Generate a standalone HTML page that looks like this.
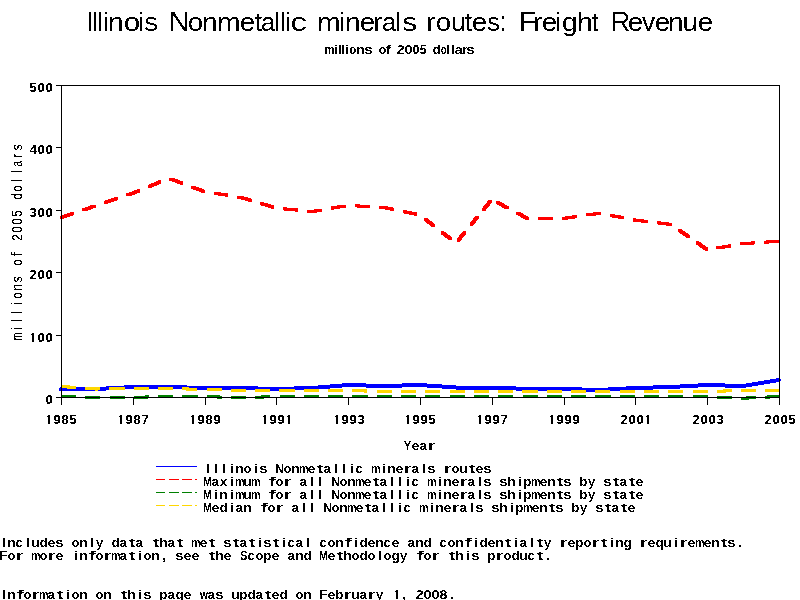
<!DOCTYPE html>
<html><head><meta charset="utf-8"><style>
html,body{margin:0;padding:0;background:#fff;width:800px;height:600px;overflow:hidden}
svg{display:block;will-change:transform}
.title text{font-family:"Liberation Sans",sans-serif;font-size:27px;fill:#000}
.sub text{font-family:"Liberation Sans",sans-serif;font-weight:bold;font-size:12.5px;fill:#000}
.tk{font-family:"Liberation Sans",sans-serif;font-weight:bold;font-size:13.1px;fill:#000}
.tkm{font-family:"Liberation Mono",monospace;font-weight:bold;font-size:13.333px;fill:#000}
.mono{font-family:"Liberation Mono",monospace;font-size:14px;fill:#000}
.yl text{font-family:"Liberation Sans",sans-serif;font-size:14px;fill:#000}
.gm text{font-family:"Liberation Sans",sans-serif;font-weight:bold;font-size:12.8px;fill:#000}
.monob{font-family:"Liberation Mono",monospace;font-weight:bold;font-size:13.333px;fill:#000;white-space:pre}
</style></head><body>
<svg width="800" height="600" viewBox="0 0 800 600">
<defs><clipPath id="plotclip"><rect x="0" y="0" width="779" height="600"/></clipPath><filter id="crisp" x="0" y="0" width="800" height="600" filterUnits="userSpaceOnUse" color-interpolation-filters="sRGB"><feComponentTransfer><feFuncA type="discrete" tableValues="0 1"/></feComponentTransfer></filter><filter id="crisp2" x="0" y="0" width="800" height="600" filterUnits="userSpaceOnUse" color-interpolation-filters="sRGB"><feComponentTransfer><feFuncA type="discrete" tableValues="0 0 1 1 1"/></feComponentTransfer></filter></defs>
<g filter="url(#crisp)">
<g fill="none" stroke-width="3" shape-rendering="crispEdges">
<polyline points="61.0,389.00 96.9,389.00 132.8,387.00 168.7,387.00 204.6,388.00 240.5,388.00 276.4,389.00 312.3,388.00 348.2,385.00 384.1,386.00 420.0,385.00 455.9,387.50 491.8,387.50 527.7,389.00 563.6,389.00 599.5,390.00 635.4,388.00 671.3,387.00 707.2,385.00 743.1,386.00 779.0,380.00" stroke="#0000ff" stroke-width="4" stroke-linecap="round"/>
<g fill="#ff0000" stroke="none" clip-path="url(#plotclip)"><polygon points="60.05,216.01 71.03,212.22 74.03,212.22 74.03,215.22 63.05,219.01 60.05,219.01"/><polygon points="82.12,208.39 93.11,204.59 96.11,204.59 96.11,207.59 85.12,211.39 82.12,211.39"/><polygon points="104.24,200.85 115.29,197.15 118.29,197.15 118.29,200.15 107.24,203.85 104.24,203.85"/><polygon points="126.43,193.43 131.30,191.80 134.30,191.80 134.30,194.80 129.43,196.43 126.43,196.43"/><polygon points="131.30,191.80 137.22,189.33 140.22,189.33 140.22,192.33 134.30,194.80 131.30,194.80"/><polygon points="147.87,184.88 158.44,180.46 161.44,180.46 161.44,183.46 150.87,187.88 147.87,187.88"/><polygon points="169.15,177.52 172.15,177.52 183.00,181.54 183.00,184.54 180.00,184.54 169.15,180.52"/><polygon points="190.94,185.59 193.94,185.59 204.79,189.61 204.79,192.61 201.79,192.61 190.94,188.59"/><polygon points="213.60,191.77 216.60,191.77 228.44,193.65 228.44,196.65 225.44,196.65 213.60,194.77"/><polygon points="237.38,195.54 240.38,195.54 242.00,195.80 242.00,198.80 239.00,198.80 237.38,198.54"/><polygon points="239.00,195.80 242.00,195.80 251.69,198.72 251.69,201.72 248.69,201.72 239.00,198.80"/><polygon points="260.01,202.12 263.01,202.12 274.24,205.50 274.24,208.50 271.24,208.50 260.01,205.12"/><polygon points="283.10,207.38 286.10,207.38 298.10,208.51 298.10,211.51 295.10,211.51 283.10,210.38"/><polygon points="307.20,209.66 310.20,209.66 313.80,210.00 313.80,213.00 310.80,213.00 307.20,212.66"/><polygon points="310.80,210.00 319.06,208.60 322.06,208.60 322.06,211.60 313.80,213.00 310.80,213.00"/><polygon points="330.96,206.57 342.76,204.57 345.76,204.57 345.76,207.57 333.96,209.57 330.96,209.57"/><polygon points="354.84,204.38 357.84,204.38 369.90,205.08 369.90,208.08 366.90,208.08 354.84,207.38"/><polygon points="379.07,205.79 382.07,205.79 385.60,206.00 385.60,209.00 382.60,209.00 379.07,208.79"/><polygon points="382.60,206.00 385.60,206.00 393.84,207.72 393.84,210.72 390.84,210.72 382.60,209.00"/><polygon points="402.59,210.18 405.59,210.18 417.25,212.61 417.25,215.61 414.25,215.61 402.59,213.18"/><polygon points="423.89,217.72 426.89,217.72 435.26,224.27 435.26,227.27 432.26,227.27 423.89,220.72"/><polygon points="440.70,230.88 443.70,230.88 452.07,237.43 452.07,240.43 449.07,240.43 440.70,233.88"/><polygon points="456.77,238.73 463.14,231.01 466.14,231.01 466.14,234.01 459.77,241.73 456.77,241.73"/><polygon points="469.56,223.23 475.93,215.52 478.93,215.52 478.93,218.52 472.56,226.23 469.56,226.23"/><polygon points="482.35,207.74 488.71,200.02 491.71,200.02 491.71,203.02 485.35,210.74 482.35,210.74"/><polygon points="495.86,201.03 498.86,201.03 508.76,206.24 508.76,209.24 505.76,209.24 495.86,204.03"/><polygon points="515.75,211.50 518.75,211.50 528.65,216.71 528.65,219.71 525.65,219.71 515.75,214.50"/><polygon points="537.73,216.97 549.83,216.93 552.83,216.93 552.83,219.93 540.73,219.97 537.73,219.97"/><polygon points="562.03,216.90 565.10,216.90 565.10,219.90 562.03,219.90"/><polygon points="562.10,216.90 573.91,215.21 576.91,215.21 576.91,218.21 565.10,219.90 562.10,219.90"/><polygon points="585.89,213.49 597.78,211.78 600.78,211.78 600.78,214.78 588.89,216.49 585.89,216.49"/><polygon points="609.61,213.96 612.61,213.96 624.33,216.20 624.33,219.20 621.33,219.20 609.61,216.96"/><polygon points="633.15,218.46 636.15,218.46 636.90,218.60 636.90,221.60 633.90,221.60 633.15,221.46"/><polygon points="633.90,218.60 636.90,218.60 648.08,219.97 648.08,222.97 645.08,222.97 633.90,221.60"/><polygon points="657.12,221.45 660.12,221.45 672.07,222.91 672.07,225.91 669.07,225.91 657.12,224.45"/><polygon points="678.16,228.88 681.16,228.88 689.98,235.09 689.98,238.09 686.98,238.09 678.16,231.88"/><polygon points="695.88,241.34 698.88,241.34 707.71,247.55 707.71,250.55 704.71,250.55 695.88,244.34"/><polygon points="716.27,246.44 728.06,244.42 731.06,244.42 731.06,247.42 719.27,249.44 716.27,249.44"/><polygon points="739.96,242.38 741.60,242.10 744.60,242.10 744.60,245.10 742.96,245.38 739.96,245.38"/><polygon points="741.60,242.10 751.98,241.42 754.98,241.42 754.98,244.42 744.60,245.10 741.60,245.10"/><polygon points="764.13,240.62 776.18,239.84 779.18,239.84 779.18,242.84 767.13,243.62 764.13,243.62"/></g>
<g fill="#008000" stroke="none" clip-path="url(#plotclip)"><polygon points="61.00,395.04 64.00,395.04 76.09,395.38 76.09,398.38 73.09,398.38 61.00,398.04"/><polygon points="85.28,395.72 88.28,395.72 98.40,396.00 98.40,399.00 95.40,399.00 85.28,398.72"/><polygon points="95.40,396.00 97.38,395.99 100.38,395.99 100.38,398.99 98.40,399.00 95.40,399.00"/><polygon points="109.58,395.92 121.67,395.85 124.67,395.85 124.67,398.85 112.58,398.92 109.58,398.92"/><polygon points="133.87,395.74 145.97,395.47 148.97,395.47 148.97,398.47 136.87,398.74 133.87,398.74"/><polygon points="158.16,395.20 167.20,395.00 170.20,395.00 170.20,398.00 161.16,398.20 158.16,398.20"/><polygon points="167.20,395.00 173.26,395.00 173.26,398.00 167.20,398.00"/><polygon points="182.46,395.00 197.56,395.00 197.56,398.00 182.46,398.00"/><polygon points="206.75,395.13 209.75,395.13 221.84,395.57 221.84,398.57 218.84,398.57 206.75,398.13"/><polygon points="231.03,396.01 234.03,396.01 242.00,396.30 242.00,399.30 239.00,399.30 231.03,399.01"/><polygon points="239.00,396.30 243.11,396.15 246.11,396.15 246.11,399.15 242.00,399.30 239.00,399.30"/><polygon points="255.30,395.71 267.38,395.27 270.38,395.27 270.38,398.27 258.30,398.71 255.30,398.71"/><polygon points="279.57,395.00 294.68,395.00 294.68,398.00 279.57,398.00"/><polygon points="303.88,395.00 313.80,395.00 313.80,398.00 303.88,398.00"/><polygon points="310.80,395.00 318.98,395.00 318.98,398.00 310.80,398.00"/><polygon points="328.18,395.00 343.27,395.00 343.27,398.00 328.18,398.00"/><polygon points="352.48,395.00 367.57,395.00 367.57,398.00 352.48,398.00"/><polygon points="376.77,395.00 385.60,395.00 385.60,398.00 376.77,398.00"/><polygon points="382.60,395.00 391.88,395.00 391.88,398.00 382.60,398.00"/><polygon points="401.07,395.00 416.18,395.00 416.18,398.00 401.07,398.00"/><polygon points="425.38,395.00 440.48,395.00 440.48,398.00 425.38,398.00"/><polygon points="449.68,395.00 457.40,395.00 457.40,398.00 449.68,398.00"/><polygon points="454.40,395.00 464.77,395.00 464.77,398.00 454.40,398.00"/><polygon points="473.98,395.00 489.07,395.00 489.07,398.00 473.98,398.00"/><polygon points="498.27,395.00 513.38,395.00 513.38,398.00 498.27,398.00"/><polygon points="522.58,395.00 529.20,395.00 529.20,398.00 522.58,398.00"/><polygon points="526.20,395.00 537.67,395.00 537.67,398.00 526.20,398.00"/><polygon points="546.88,395.00 561.98,395.00 561.98,398.00 546.88,398.00"/><polygon points="571.17,395.00 586.27,395.00 586.27,398.00 571.17,398.00"/><polygon points="595.48,395.00 601.00,395.00 601.00,398.00 595.48,398.00"/><polygon points="598.00,395.00 610.58,395.00 610.58,398.00 598.00,398.00"/><polygon points="619.77,395.00 634.88,395.00 634.88,398.00 619.77,398.00"/><polygon points="644.08,395.00 659.17,395.00 659.17,398.00 644.08,398.00"/><polygon points="668.38,395.00 672.80,395.00 672.80,398.00 668.38,398.00"/><polygon points="669.80,395.00 683.48,395.00 683.48,398.00 669.80,398.00"/><polygon points="692.67,395.00 707.77,395.00 707.77,398.00 692.67,398.00"/><polygon points="716.95,395.53 719.95,395.53 732.03,396.11 732.03,399.11 729.03,399.11 716.95,398.53"/><polygon points="741.20,396.68 744.20,396.68 744.60,396.70 744.60,399.70 741.60,399.70 741.20,399.68"/><polygon points="741.60,396.70 753.28,396.15 756.28,396.15 756.28,399.15 744.60,399.70 741.60,399.70"/><polygon points="765.46,395.57 777.50,395.00 780.50,395.00 780.50,398.00 768.46,398.57 765.46,398.57"/></g>
<g fill="#ffd700" stroke="none" clip-path="url(#plotclip)"><polygon points="60.99,385.10 63.99,385.10 76.04,385.94 76.04,388.94 73.04,388.94 60.99,388.10"/><polygon points="85.19,386.79 88.19,386.79 98.40,387.50 98.40,390.50 95.40,390.50 85.19,389.79"/><polygon points="95.40,387.50 97.25,387.47 100.25,387.47 100.25,390.47 98.40,390.50 95.40,390.50"/><polygon points="109.44,387.30 121.54,387.14 124.54,387.14 124.54,390.14 112.44,390.30 109.44,390.30"/><polygon points="133.74,387.00 148.84,387.00 148.84,390.00 133.74,390.00"/><polygon points="158.04,387.00 170.20,387.00 170.20,390.00 158.04,390.00"/><polygon points="167.20,387.00 170.20,387.00 173.14,387.08 173.14,390.08 170.14,390.08 167.20,390.00"/><polygon points="182.33,387.42 185.33,387.42 197.42,387.76 197.42,390.76 194.42,390.76 182.33,390.42"/><polygon points="206.61,388.10 209.61,388.10 221.70,388.44 221.70,391.44 218.70,391.44 206.61,391.10"/><polygon points="230.90,388.77 233.90,388.77 242.00,389.00 242.00,392.00 239.00,392.00 230.90,391.77"/><polygon points="239.00,389.00 245.99,389.00 245.99,392.00 239.00,392.00"/><polygon points="255.19,389.00 270.29,389.00 270.29,392.00 255.19,392.00"/><polygon points="279.49,389.00 294.59,389.00 294.59,392.00 279.49,392.00"/><polygon points="303.79,389.00 313.80,389.00 313.80,392.00 303.79,392.00"/><polygon points="310.80,389.00 318.89,389.00 318.89,392.00 310.80,392.00"/><polygon points="328.09,389.00 343.19,389.00 343.19,392.00 328.09,392.00"/><polygon points="352.39,389.16 355.39,389.16 367.48,389.50 367.48,392.50 364.48,392.50 352.39,392.16"/><polygon points="376.67,389.83 379.67,389.83 385.60,390.00 385.60,393.00 382.60,393.00 376.67,392.83"/><polygon points="382.60,390.00 391.76,390.00 391.76,393.00 382.60,393.00"/><polygon points="400.96,390.00 416.06,390.00 416.06,393.00 400.96,393.00"/><polygon points="425.26,390.00 440.37,390.00 440.37,393.00 425.26,393.00"/><polygon points="449.56,390.00 457.40,390.00 457.40,393.00 449.56,393.00"/><polygon points="454.40,390.00 464.67,390.00 464.67,393.00 454.40,393.00"/><polygon points="473.87,390.00 488.96,390.00 488.96,393.00 473.87,393.00"/><polygon points="498.17,390.00 513.26,390.00 513.26,393.00 498.17,393.00"/><polygon points="522.47,390.00 529.20,390.00 529.20,393.00 522.47,393.00"/><polygon points="526.20,390.00 537.57,390.00 537.57,393.00 526.20,393.00"/><polygon points="546.76,390.00 561.87,390.00 561.87,393.00 546.76,393.00"/><polygon points="571.07,390.00 586.16,390.00 586.16,393.00 571.07,393.00"/><polygon points="595.37,390.00 601.00,390.00 601.00,393.00 595.37,393.00"/><polygon points="598.00,390.00 610.47,390.00 610.47,393.00 598.00,393.00"/><polygon points="619.66,390.00 634.76,390.00 634.76,393.00 619.66,393.00"/><polygon points="643.97,390.00 659.07,390.00 659.07,393.00 643.97,393.00"/><polygon points="668.26,390.00 672.80,390.00 672.80,393.00 668.26,393.00"/><polygon points="669.80,390.00 683.37,390.00 683.37,393.00 669.80,393.00"/><polygon points="692.57,390.00 707.66,390.00 707.66,393.00 692.57,393.00"/><polygon points="716.86,389.69 728.95,389.35 731.95,389.35 731.95,392.35 719.86,392.69 716.86,392.69"/><polygon points="741.14,389.01 741.60,389.00 744.60,389.00 744.60,392.00 744.14,392.01 741.14,392.01"/><polygon points="741.60,389.00 756.24,389.00 756.24,392.00 741.60,392.00"/><polygon points="765.44,389.00 780.50,389.00 780.50,392.00 765.44,392.00"/></g>
</g>
<rect x="61.5" y="85.5" width="718" height="312" fill="none" stroke="#000" stroke-width="1" shape-rendering="crispEdges"/>
<line x1="56" y1="85.5" x2="61" y2="85.5" stroke="#000" shape-rendering="crispEdges"/>
<line x1="56" y1="147.5" x2="61" y2="147.5" stroke="#000" shape-rendering="crispEdges"/>
<line x1="56" y1="210.5" x2="61" y2="210.5" stroke="#000" shape-rendering="crispEdges"/>
<line x1="56" y1="272.5" x2="61" y2="272.5" stroke="#000" shape-rendering="crispEdges"/>
<line x1="56" y1="335.5" x2="61" y2="335.5" stroke="#000" shape-rendering="crispEdges"/>
<line x1="56" y1="397.5" x2="61" y2="397.5" stroke="#000" shape-rendering="crispEdges"/>
<line x1="61.5" y1="397" x2="61.5" y2="405" stroke="#000" shape-rendering="crispEdges"/>
<line x1="133.5" y1="397" x2="133.5" y2="405" stroke="#000" shape-rendering="crispEdges"/>
<line x1="205.5" y1="397" x2="205.5" y2="405" stroke="#000" shape-rendering="crispEdges"/>
<line x1="276.5" y1="397" x2="276.5" y2="405" stroke="#000" shape-rendering="crispEdges"/>
<line x1="348.5" y1="397" x2="348.5" y2="405" stroke="#000" shape-rendering="crispEdges"/>
<line x1="420.5" y1="397" x2="420.5" y2="405" stroke="#000" shape-rendering="crispEdges"/>
<line x1="492.5" y1="397" x2="492.5" y2="405" stroke="#000" shape-rendering="crispEdges"/>
<line x1="564.5" y1="397" x2="564.5" y2="405" stroke="#000" shape-rendering="crispEdges"/>
<line x1="635.5" y1="397" x2="635.5" y2="405" stroke="#000" shape-rendering="crispEdges"/>
<line x1="707.5" y1="397" x2="707.5" y2="405" stroke="#000" shape-rendering="crispEdges"/>
<line x1="779.5" y1="397" x2="779.5" y2="405" stroke="#000" shape-rendering="crispEdges"/>
<text x="45.50" y="404" class="tk">0</text>
<rect x="32" y="333" width="2" height="9"/><rect x="31" y="334" width="1" height="1"/><text x="37.50 45.50" y="342" class="tk">00</text>
<text x="29.50 37.50 45.50" y="279" class="tk">200</text>
<text x="29.50 37.50 45.50" y="217" class="tk">300</text>
<text x="29.50 37.50 45.50" y="154" class="tk">400</text>
<text x="29.50 37.50 45.50" y="92" class="tk">500</text>
<rect x="48" y="415" width="2" height="9"/><rect x="47" y="416" width="1" height="1"/><text x="53.50 61.50 69.50" y="424" class="tk">985</text>
<rect x="120" y="415" width="2" height="9"/><rect x="119" y="416" width="1" height="1"/><text x="125.50 133.50 141.50" y="424" class="tk">987</text>
<rect x="192" y="415" width="2" height="9"/><rect x="191" y="416" width="1" height="1"/><text x="197.50 205.50 213.50" y="424" class="tk">989</text>
<rect x="264" y="415" width="2" height="9"/><rect x="263" y="416" width="1" height="1"/><rect x="288" y="415" width="2" height="9"/><rect x="287" y="416" width="1" height="1"/><text x="269.50 277.50" y="424" class="tk">99</text>
<rect x="336" y="415" width="2" height="9"/><rect x="335" y="416" width="1" height="1"/><text x="341.50 349.50 357.50" y="424" class="tk">993</text>
<rect x="407" y="415" width="2" height="9"/><rect x="406" y="416" width="1" height="1"/><text x="412.50 420.50 428.50" y="424" class="tk">995</text>
<rect x="479" y="415" width="2" height="9"/><rect x="478" y="416" width="1" height="1"/><text x="484.50 492.50 500.50" y="424" class="tk">997</text>
<rect x="551" y="415" width="2" height="9"/><rect x="550" y="416" width="1" height="1"/><text x="556.50 564.50 572.50" y="424" class="tk">999</text>
<rect x="647" y="415" width="2" height="9"/><rect x="646" y="416" width="1" height="1"/><text x="620.50 628.50 636.50" y="424" class="tk">200</text>
<text x="692.50 700.50 708.50 716.50" y="424" class="tk">2003</text>
<text x="764.50 772.50 780.50 788.50" y="424" class="tk">2005</text>
<g class="gm"><text transform="translate(403.81,450) scale(0.863,1)">Y</text><text transform="translate(411.43,450) scale(1.132,1)">e</text><text transform="translate(419.62,450) scale(1.026,1)">a</text><text transform="translate(427.72,450) scale(1.521,1)">r</text></g>
<g filter="url(#crisp2)"><g transform="translate(22,341) rotate(-90)"><g class="yl"><text transform="translate(0.63,0) scale(0.663,1)">m</text><text x="10.95" y="0">i</text><text x="18.94" y="0">l</text><text x="26.94" y="0">l</text><text x="35.95" y="0">i</text><text transform="translate(42.26,0) scale(0.832,1)">o</text><text transform="translate(49.89,0) scale(0.925,1)">n</text><text transform="translate(58.40,0) scale(0.901,1)">s</text><text transform="translate(75.26,0) scale(0.832,1)">o</text><text x="84.45" y="0">f</text><text transform="translate(100.14,0) scale(0.862,1)">2</text><text transform="translate(108.30,0) scale(0.822,1)">0</text><text transform="translate(116.30,0) scale(0.822,1)">0</text><text transform="translate(124.29,0) scale(0.829,1)">5</text><text transform="translate(141.24,0) scale(0.874,1)">d</text><text transform="translate(149.26,0) scale(0.832,1)">o</text><text x="158.94" y="0">l</text><text x="167.94" y="0">l</text><text transform="translate(174.30,0) scale(0.765,1)">a</text><text x="182.82" y="0">r</text><text transform="translate(190.40,0) scale(0.901,1)">s</text></g></g></g>
<g class="title"><text transform="translate(87.02,31) scale(0.794,1.000)">I</text><text transform="translate(92.47,31) scale(0.843,0.950)">l</text><text transform="translate(97.47,31) scale(0.843,0.950)">l</text><text transform="translate(103.48,31) scale(0.843,0.950)">i</text><text transform="translate(108.12,31) scale(1.046,0.950)">n</text><text transform="translate(123.75,31) scale(1.098,0.950)">o</text><text transform="translate(138.48,31) scale(0.843,0.950)">i</text><text transform="translate(144.23,31) scale(1.019,0.950)">s</text><text transform="translate(168.65,31) scale(1.061,1.000)">N</text><text transform="translate(187.84,31) scale(1.020,0.950)">o</text><text transform="translate(202.12,31) scale(1.046,0.950)">n</text><text transform="translate(217.10,31) scale(1.057,0.950)">m</text><text transform="translate(239.82,31) scale(1.026,0.950)">e</text><text transform="translate(254.59,31) scale(1.015,0.950)">t</text><text transform="translate(260.92,31) scale(0.937,0.950)">a</text><text transform="translate(274.47,31) scale(0.843,0.950)">l</text><text transform="translate(280.47,31) scale(0.843,0.950)">l</text><text transform="translate(285.48,31) scale(0.843,0.950)">i</text><text transform="translate(290.62,31) scale(1.203,0.950)">c</text><text transform="translate(317.10,31) scale(1.057,0.950)">m</text><text transform="translate(339.48,31) scale(0.843,0.950)">i</text><text transform="translate(345.12,31) scale(1.046,0.950)">n</text><text transform="translate(359.82,31) scale(1.026,0.950)">e</text><text transform="translate(373.14,31) scale(1.037,0.950)">r</text><text transform="translate(381.92,31) scale(0.937,0.950)">a</text><text transform="translate(395.47,31) scale(0.843,0.950)">l</text><text transform="translate(402.17,31) scale(1.104,0.950)">s</text><text transform="translate(426.14,31) scale(1.037,0.950)">r</text><text transform="translate(435.84,31) scale(1.020,0.950)">o</text><text transform="translate(451.32,31) scale(0.959,0.950)">u</text><text transform="translate(464.59,31) scale(1.015,0.950)">t</text><text transform="translate(471.82,31) scale(1.026,0.950)">e</text><text transform="translate(487.30,31) scale(0.934,0.950)">s</text><text transform="translate(500.08,31) scale(0.778,1.000)">:</text><text transform="translate(518.65,31) scale(1.061,1.000)">F</text><text transform="translate(533.14,31) scale(1.037,0.950)">r</text><text transform="translate(541.82,31) scale(1.026,0.950)">e</text><text transform="translate(555.48,31) scale(0.843,0.950)">i</text><text transform="translate(561.79,31) scale(1.071,0.950)">g</text><text transform="translate(577.03,31) scale(1.053,0.950)">h</text><text transform="translate(591.64,31) scale(0.870,0.950)">t</text><text transform="translate(610.79,31) scale(0.998,1.000)">R</text><text transform="translate(627.82,31) scale(1.026,0.950)">e</text><text transform="translate(641.91,31) scale(0.976,0.950)">v</text><text transform="translate(654.82,31) scale(1.026,0.950)">e</text><text transform="translate(668.12,31) scale(1.046,0.950)">n</text><text transform="translate(682.17,31) scale(1.046,0.950)">u</text><text transform="translate(697.82,31) scale(1.026,0.950)">e</text></g>
<g class="sub"><text transform="translate(324.22,54) scale(0.946,1)">m</text><text transform="translate(333.98,54) scale(1.166,1)">i</text><text transform="translate(337.98,54) scale(1.166,1)">l</text><text transform="translate(340.98,54) scale(1.166,1)">l</text><text transform="translate(344.98,54) scale(1.166,1)">i</text><text transform="translate(349.56,54) scale(0.901,1)">o</text><text transform="translate(356.04,54) scale(1.160,1)">n</text><text transform="translate(364.49,54) scale(1.167,1)">s</text><text transform="translate(378.49,54) scale(1.051,1)">o</text><text transform="translate(385.73,54) scale(1.258,1)">f</text><text transform="translate(396.50,54) scale(1.163,1)">2</text><text transform="translate(404.42,54) scale(1.177,1)">0</text><text transform="translate(412.50,54) scale(1.009,1)">0</text><text transform="translate(419.63,54) scale(0.965,1)">5</text><text transform="translate(432.43,54) scale(1.111,1)">d</text><text transform="translate(440.63,54) scale(0.751,1)">o</text><text transform="translate(445.98,54) scale(1.166,1)">l</text><text transform="translate(450.98,54) scale(1.166,1)">l</text><text transform="translate(454.56,54) scale(1.200,1)">a</text><text transform="translate(462.14,54) scale(1.039,1)">r</text><text transform="translate(466.49,54) scale(1.167,1)">s</text></g>
<line x1="156" y1="466.5" x2="197" y2="466.5" stroke="#0000ff" stroke-width="1" shape-rendering="crispEdges"/>
<g class="gm"><text x="206.22" y="473">I</text><text x="214.23" y="473">l</text><text x="222.23" y="473">l</text><text x="230.23" y="473">i</text><text transform="translate(235.04,473) scale(1.132,1)">n</text><text transform="translate(243.49,473) scale(1.027,1)">o</text><text x="254.23" y="473">i</text><text transform="translate(259.49,473) scale(1.139,1)">s</text><text transform="translate(275.20,473) scale(0.930,1)">N</text><text transform="translate(283.49,473) scale(1.027,1)">o</text><text transform="translate(291.04,473) scale(1.132,1)">n</text><text transform="translate(299.31,473) scale(0.821,1)">m</text><text transform="translate(307.43,473) scale(1.132,1)">e</text><text transform="translate(317.01,473) scale(1.519,1)">t</text><text transform="translate(323.62,473) scale(1.026,1)">a</text><text x="334.23" y="473">l</text><text x="342.23" y="473">l</text><text x="350.23" y="473">i</text><text transform="translate(355.52,473) scale(0.961,1)">c</text><text transform="translate(371.31,473) scale(0.821,1)">m</text><text x="382.23" y="473">i</text><text transform="translate(387.04,473) scale(1.132,1)">n</text><text transform="translate(395.43,473) scale(1.132,1)">e</text><text transform="translate(403.72,473) scale(1.521,1)">r</text><text transform="translate(411.62,473) scale(1.026,1)">a</text><text x="422.23" y="473">l</text><text transform="translate(427.49,473) scale(1.139,1)">s</text><text transform="translate(443.72,473) scale(1.521,1)">r</text><text transform="translate(451.49,473) scale(1.027,1)">o</text><text transform="translate(459.10,473) scale(1.132,1)">u</text><text transform="translate(469.01,473) scale(1.519,1)">t</text><text transform="translate(475.43,473) scale(1.132,1)">e</text><text transform="translate(483.49,473) scale(1.139,1)">s</text></g>
<line x1="156" y1="479.5" x2="197" y2="479.5" stroke="#ff0000" stroke-width="1" stroke-dasharray="9 4 10 3 10 3 10 3" shape-rendering="crispEdges"/>
<g class="gm"><text transform="translate(203.33,486) scale(0.782,1)">M</text><text transform="translate(211.62,486) scale(1.026,1)">a</text><text transform="translate(219.91,486) scale(1.009,1)">x</text><text x="230.23" y="486">i</text><text transform="translate(235.31,486) scale(0.821,1)">m</text><text transform="translate(243.10,486) scale(1.132,1)">u</text><text transform="translate(251.31,486) scale(0.821,1)">m</text><text transform="translate(268.70,486) scale(1.598,1)">f</text><text transform="translate(275.49,486) scale(1.027,1)">o</text><text transform="translate(283.72,486) scale(1.521,1)">r</text><text transform="translate(299.62,486) scale(1.026,1)">a</text><text x="310.23" y="486">l</text><text x="318.23" y="486">l</text><text transform="translate(331.20,486) scale(0.930,1)">N</text><text transform="translate(339.49,486) scale(1.027,1)">o</text><text transform="translate(347.04,486) scale(1.132,1)">n</text><text transform="translate(355.31,486) scale(0.821,1)">m</text><text transform="translate(363.43,486) scale(1.132,1)">e</text><text transform="translate(373.01,486) scale(1.519,1)">t</text><text transform="translate(379.62,486) scale(1.026,1)">a</text><text x="390.23" y="486">l</text><text x="398.23" y="486">l</text><text x="406.23" y="486">i</text><text transform="translate(411.52,486) scale(0.961,1)">c</text><text transform="translate(427.31,486) scale(0.821,1)">m</text><text x="438.23" y="486">i</text><text transform="translate(443.04,486) scale(1.132,1)">n</text><text transform="translate(451.43,486) scale(1.132,1)">e</text><text transform="translate(459.72,486) scale(1.521,1)">r</text><text transform="translate(467.62,486) scale(1.026,1)">a</text><text x="478.23" y="486">l</text><text transform="translate(483.49,486) scale(1.139,1)">s</text><text transform="translate(499.49,486) scale(1.139,1)">s</text><text transform="translate(506.98,486) scale(1.142,1)">h</text><text x="518.23" y="486">i</text><text transform="translate(523.08,486) scale(1.085,1)">p</text><text transform="translate(531.31,486) scale(0.821,1)">m</text><text transform="translate(539.43,486) scale(1.132,1)">e</text><text transform="translate(547.04,486) scale(1.132,1)">n</text><text transform="translate(557.01,486) scale(1.519,1)">t</text><text transform="translate(563.49,486) scale(1.139,1)">s</text><text transform="translate(579.08,486) scale(1.085,1)">b</text><text transform="translate(587.90,486) scale(1.007,1)">y</text><text transform="translate(603.49,486) scale(1.139,1)">s</text><text transform="translate(613.01,486) scale(1.519,1)">t</text><text transform="translate(619.62,486) scale(1.026,1)">a</text><text transform="translate(629.01,486) scale(1.519,1)">t</text><text transform="translate(635.43,486) scale(1.132,1)">e</text></g>
<line x1="156" y1="492.5" x2="197" y2="492.5" stroke="#008000" stroke-width="1" stroke-dasharray="9 4 10 3 10 3 10 3" shape-rendering="crispEdges"/>
<g class="gm"><text transform="translate(203.33,499) scale(0.782,1)">M</text><text x="214.23" y="499">i</text><text transform="translate(219.04,499) scale(1.132,1)">n</text><text x="230.23" y="499">i</text><text transform="translate(235.31,499) scale(0.821,1)">m</text><text transform="translate(243.10,499) scale(1.132,1)">u</text><text transform="translate(251.31,499) scale(0.821,1)">m</text><text transform="translate(268.70,499) scale(1.598,1)">f</text><text transform="translate(275.49,499) scale(1.027,1)">o</text><text transform="translate(283.72,499) scale(1.521,1)">r</text><text transform="translate(299.62,499) scale(1.026,1)">a</text><text x="310.23" y="499">l</text><text x="318.23" y="499">l</text><text transform="translate(331.20,499) scale(0.930,1)">N</text><text transform="translate(339.49,499) scale(1.027,1)">o</text><text transform="translate(347.04,499) scale(1.132,1)">n</text><text transform="translate(355.31,499) scale(0.821,1)">m</text><text transform="translate(363.43,499) scale(1.132,1)">e</text><text transform="translate(373.01,499) scale(1.519,1)">t</text><text transform="translate(379.62,499) scale(1.026,1)">a</text><text x="390.23" y="499">l</text><text x="398.23" y="499">l</text><text x="406.23" y="499">i</text><text transform="translate(411.52,499) scale(0.961,1)">c</text><text transform="translate(427.31,499) scale(0.821,1)">m</text><text x="438.23" y="499">i</text><text transform="translate(443.04,499) scale(1.132,1)">n</text><text transform="translate(451.43,499) scale(1.132,1)">e</text><text transform="translate(459.72,499) scale(1.521,1)">r</text><text transform="translate(467.62,499) scale(1.026,1)">a</text><text x="478.23" y="499">l</text><text transform="translate(483.49,499) scale(1.139,1)">s</text><text transform="translate(499.49,499) scale(1.139,1)">s</text><text transform="translate(506.98,499) scale(1.142,1)">h</text><text x="518.23" y="499">i</text><text transform="translate(523.08,499) scale(1.085,1)">p</text><text transform="translate(531.31,499) scale(0.821,1)">m</text><text transform="translate(539.43,499) scale(1.132,1)">e</text><text transform="translate(547.04,499) scale(1.132,1)">n</text><text transform="translate(557.01,499) scale(1.519,1)">t</text><text transform="translate(563.49,499) scale(1.139,1)">s</text><text transform="translate(579.08,499) scale(1.085,1)">b</text><text transform="translate(587.90,499) scale(1.007,1)">y</text><text transform="translate(603.49,499) scale(1.139,1)">s</text><text transform="translate(613.01,499) scale(1.519,1)">t</text><text transform="translate(619.62,499) scale(1.026,1)">a</text><text transform="translate(629.01,499) scale(1.519,1)">t</text><text transform="translate(635.43,499) scale(1.132,1)">e</text></g>
<line x1="156" y1="505.5" x2="197" y2="505.5" stroke="#ffd700" stroke-width="1" stroke-dasharray="9 4 10 3 10 3 10 3" shape-rendering="crispEdges"/>
<g class="gm"><text transform="translate(203.33,512) scale(0.782,1)">M</text><text transform="translate(211.43,512) scale(1.132,1)">e</text><text transform="translate(219.43,512) scale(1.085,1)">d</text><text x="230.23" y="512">i</text><text transform="translate(235.62,512) scale(1.026,1)">a</text><text transform="translate(243.04,512) scale(1.132,1)">n</text><text transform="translate(260.70,512) scale(1.598,1)">f</text><text transform="translate(267.49,512) scale(1.027,1)">o</text><text transform="translate(275.72,512) scale(1.521,1)">r</text><text transform="translate(291.62,512) scale(1.026,1)">a</text><text x="302.23" y="512">l</text><text x="310.23" y="512">l</text><text transform="translate(323.20,512) scale(0.930,1)">N</text><text transform="translate(331.49,512) scale(1.027,1)">o</text><text transform="translate(339.04,512) scale(1.132,1)">n</text><text transform="translate(347.31,512) scale(0.821,1)">m</text><text transform="translate(355.43,512) scale(1.132,1)">e</text><text transform="translate(365.01,512) scale(1.519,1)">t</text><text transform="translate(371.62,512) scale(1.026,1)">a</text><text x="382.23" y="512">l</text><text x="390.23" y="512">l</text><text x="398.23" y="512">i</text><text transform="translate(403.52,512) scale(0.961,1)">c</text><text transform="translate(419.31,512) scale(0.821,1)">m</text><text x="430.23" y="512">i</text><text transform="translate(435.04,512) scale(1.132,1)">n</text><text transform="translate(443.43,512) scale(1.132,1)">e</text><text transform="translate(451.72,512) scale(1.521,1)">r</text><text transform="translate(459.62,512) scale(1.026,1)">a</text><text x="470.23" y="512">l</text><text transform="translate(475.49,512) scale(1.139,1)">s</text><text transform="translate(491.49,512) scale(1.139,1)">s</text><text transform="translate(498.98,512) scale(1.142,1)">h</text><text x="510.23" y="512">i</text><text transform="translate(515.08,512) scale(1.085,1)">p</text><text transform="translate(523.31,512) scale(0.821,1)">m</text><text transform="translate(531.43,512) scale(1.132,1)">e</text><text transform="translate(539.04,512) scale(1.132,1)">n</text><text transform="translate(549.01,512) scale(1.519,1)">t</text><text transform="translate(555.49,512) scale(1.139,1)">s</text><text transform="translate(571.08,512) scale(1.085,1)">b</text><text transform="translate(579.90,512) scale(1.007,1)">y</text><text transform="translate(595.49,512) scale(1.139,1)">s</text><text transform="translate(605.01,512) scale(1.519,1)">t</text><text transform="translate(611.62,512) scale(1.026,1)">a</text><text transform="translate(621.01,512) scale(1.519,1)">t</text><text transform="translate(627.43,512) scale(1.132,1)">e</text></g>
<g class="gm"><text x="2.22" y="547">I</text><text transform="translate(7.04,547) scale(1.132,1)">n</text><text transform="translate(15.52,547) scale(0.961,1)">c</text><text x="26.23" y="547">l</text><text transform="translate(31.10,547) scale(1.132,1)">u</text><text transform="translate(39.43,547) scale(1.085,1)">d</text><text transform="translate(47.43,547) scale(1.132,1)">e</text><text transform="translate(55.49,547) scale(1.139,1)">s</text><text transform="translate(71.49,547) scale(1.027,1)">o</text><text transform="translate(79.04,547) scale(1.132,1)">n</text><text x="90.23" y="547">l</text><text transform="translate(95.90,547) scale(1.007,1)">y</text><text transform="translate(111.43,547) scale(1.085,1)">d</text><text transform="translate(119.62,547) scale(1.026,1)">a</text><text transform="translate(129.01,547) scale(1.519,1)">t</text><text transform="translate(135.62,547) scale(1.026,1)">a</text><text transform="translate(153.01,547) scale(1.519,1)">t</text><text transform="translate(158.98,547) scale(1.142,1)">h</text><text transform="translate(167.62,547) scale(1.026,1)">a</text><text transform="translate(177.01,547) scale(1.519,1)">t</text><text transform="translate(191.31,547) scale(0.821,1)">m</text><text transform="translate(199.43,547) scale(1.132,1)">e</text><text transform="translate(209.01,547) scale(1.519,1)">t</text><text transform="translate(223.49,547) scale(1.139,1)">s</text><text transform="translate(233.01,547) scale(1.519,1)">t</text><text transform="translate(239.62,547) scale(1.026,1)">a</text><text transform="translate(249.01,547) scale(1.519,1)">t</text><text x="258.23" y="547">i</text><text transform="translate(263.49,547) scale(1.139,1)">s</text><text transform="translate(273.01,547) scale(1.519,1)">t</text><text x="282.23" y="547">i</text><text transform="translate(287.52,547) scale(0.961,1)">c</text><text transform="translate(295.62,547) scale(1.026,1)">a</text><text x="306.23" y="547">l</text><text transform="translate(319.52,547) scale(0.961,1)">c</text><text transform="translate(327.49,547) scale(1.027,1)">o</text><text transform="translate(335.04,547) scale(1.132,1)">n</text><text transform="translate(344.70,547) scale(1.598,1)">f</text><text x="354.23" y="547">i</text><text transform="translate(359.43,547) scale(1.085,1)">d</text><text transform="translate(367.43,547) scale(1.132,1)">e</text><text transform="translate(375.04,547) scale(1.132,1)">n</text><text transform="translate(383.52,547) scale(0.961,1)">c</text><text transform="translate(391.43,547) scale(1.132,1)">e</text><text transform="translate(407.62,547) scale(1.026,1)">a</text><text transform="translate(415.04,547) scale(1.132,1)">n</text><text transform="translate(423.43,547) scale(1.085,1)">d</text><text transform="translate(439.52,547) scale(0.961,1)">c</text><text transform="translate(447.49,547) scale(1.027,1)">o</text><text transform="translate(455.04,547) scale(1.132,1)">n</text><text transform="translate(464.70,547) scale(1.598,1)">f</text><text x="474.23" y="547">i</text><text transform="translate(479.43,547) scale(1.085,1)">d</text><text transform="translate(487.43,547) scale(1.132,1)">e</text><text transform="translate(495.04,547) scale(1.132,1)">n</text><text transform="translate(505.01,547) scale(1.519,1)">t</text><text x="514.23" y="547">i</text><text transform="translate(519.62,547) scale(1.026,1)">a</text><text x="530.23" y="547">l</text><text transform="translate(537.01,547) scale(1.519,1)">t</text><text transform="translate(543.90,547) scale(1.007,1)">y</text><text transform="translate(559.72,547) scale(1.521,1)">r</text><text transform="translate(567.43,547) scale(1.132,1)">e</text><text transform="translate(575.08,547) scale(1.085,1)">p</text><text transform="translate(583.49,547) scale(1.027,1)">o</text><text transform="translate(591.72,547) scale(1.521,1)">r</text><text transform="translate(601.01,547) scale(1.519,1)">t</text><text x="610.23" y="547">i</text><text transform="translate(615.04,547) scale(1.132,1)">n</text><text transform="translate(623.43,547) scale(1.087,1)">g</text><text transform="translate(639.72,547) scale(1.521,1)">r</text><text transform="translate(647.43,547) scale(1.132,1)">e</text><text transform="translate(655.43,547) scale(1.087,1)">q</text><text transform="translate(663.10,547) scale(1.132,1)">u</text><text x="674.23" y="547">i</text><text transform="translate(679.72,547) scale(1.521,1)">r</text><text transform="translate(687.43,547) scale(1.132,1)">e</text><text transform="translate(695.31,547) scale(0.821,1)">m</text><text transform="translate(703.43,547) scale(1.132,1)">e</text><text transform="translate(711.04,547) scale(1.132,1)">n</text><text transform="translate(721.01,547) scale(1.519,1)">t</text><text transform="translate(727.49,547) scale(1.139,1)">s</text><text x="738.23" y="547">.</text></g>
<g class="gm"><text transform="translate(-0.92,560) scale(1.078,1)">F</text><text transform="translate(7.49,560) scale(1.027,1)">o</text><text transform="translate(15.72,560) scale(1.521,1)">r</text><text transform="translate(31.31,560) scale(0.821,1)">m</text><text transform="translate(39.49,560) scale(1.027,1)">o</text><text transform="translate(47.72,560) scale(1.521,1)">r</text><text transform="translate(55.43,560) scale(1.132,1)">e</text><text x="74.23" y="560">i</text><text transform="translate(79.04,560) scale(1.132,1)">n</text><text transform="translate(88.70,560) scale(1.598,1)">f</text><text transform="translate(95.49,560) scale(1.027,1)">o</text><text transform="translate(103.72,560) scale(1.521,1)">r</text><text transform="translate(111.31,560) scale(0.821,1)">m</text><text transform="translate(119.62,560) scale(1.026,1)">a</text><text transform="translate(129.01,560) scale(1.519,1)">t</text><text x="138.23" y="560">i</text><text transform="translate(143.49,560) scale(1.027,1)">o</text><text transform="translate(151.04,560) scale(1.132,1)">n</text><text x="162.22" y="560">,</text><text transform="translate(175.49,560) scale(1.139,1)">s</text><text transform="translate(183.43,560) scale(1.132,1)">e</text><text transform="translate(191.43,560) scale(1.132,1)">e</text><text transform="translate(209.01,560) scale(1.519,1)">t</text><text transform="translate(214.98,560) scale(1.142,1)">h</text><text transform="translate(223.43,560) scale(1.132,1)">e</text><text transform="translate(239.66,560) scale(0.913,1)">S</text><text transform="translate(247.52,560) scale(0.961,1)">c</text><text transform="translate(255.49,560) scale(1.027,1)">o</text><text transform="translate(263.08,560) scale(1.085,1)">p</text><text transform="translate(271.43,560) scale(1.132,1)">e</text><text transform="translate(287.62,560) scale(1.026,1)">a</text><text transform="translate(295.04,560) scale(1.132,1)">n</text><text transform="translate(303.43,560) scale(1.085,1)">d</text><text transform="translate(319.33,560) scale(0.782,1)">M</text><text transform="translate(327.43,560) scale(1.132,1)">e</text><text transform="translate(337.01,560) scale(1.519,1)">t</text><text transform="translate(342.98,560) scale(1.142,1)">h</text><text transform="translate(351.49,560) scale(1.027,1)">o</text><text transform="translate(359.43,560) scale(1.085,1)">d</text><text transform="translate(367.49,560) scale(1.027,1)">o</text><text x="378.23" y="560">l</text><text transform="translate(383.49,560) scale(1.027,1)">o</text><text transform="translate(391.43,560) scale(1.087,1)">g</text><text transform="translate(399.90,560) scale(1.007,1)">y</text><text transform="translate(416.70,560) scale(1.598,1)">f</text><text transform="translate(423.49,560) scale(1.027,1)">o</text><text transform="translate(431.72,560) scale(1.521,1)">r</text><text transform="translate(449.01,560) scale(1.519,1)">t</text><text transform="translate(454.98,560) scale(1.142,1)">h</text><text x="466.23" y="560">i</text><text transform="translate(471.49,560) scale(1.139,1)">s</text><text transform="translate(487.08,560) scale(1.085,1)">p</text><text transform="translate(495.72,560) scale(1.521,1)">r</text><text transform="translate(503.49,560) scale(1.027,1)">o</text><text transform="translate(511.43,560) scale(1.085,1)">d</text><text transform="translate(519.10,560) scale(1.132,1)">u</text><text transform="translate(527.52,560) scale(0.961,1)">c</text><text transform="translate(537.01,560) scale(1.519,1)">t</text><text x="546.23" y="560">.</text></g>
<g class="gm"><text x="2.22" y="599">I</text><text transform="translate(7.04,599) scale(1.132,1)">n</text><text transform="translate(16.70,599) scale(1.598,1)">f</text><text transform="translate(23.49,599) scale(1.027,1)">o</text><text transform="translate(31.72,599) scale(1.521,1)">r</text><text transform="translate(39.31,599) scale(0.821,1)">m</text><text transform="translate(47.62,599) scale(1.026,1)">a</text><text transform="translate(57.01,599) scale(1.519,1)">t</text><text x="66.23" y="599">i</text><text transform="translate(71.49,599) scale(1.027,1)">o</text><text transform="translate(79.04,599) scale(1.132,1)">n</text><text transform="translate(95.49,599) scale(1.027,1)">o</text><text transform="translate(103.04,599) scale(1.132,1)">n</text><text transform="translate(121.01,599) scale(1.519,1)">t</text><text transform="translate(126.98,599) scale(1.142,1)">h</text><text x="138.23" y="599">i</text><text transform="translate(143.49,599) scale(1.139,1)">s</text><text transform="translate(159.08,599) scale(1.085,1)">p</text><text transform="translate(167.62,599) scale(1.026,1)">a</text><text transform="translate(175.43,599) scale(1.087,1)">g</text><text transform="translate(183.43,599) scale(1.132,1)">e</text><text transform="translate(200.03,599) scale(0.799,1)">w</text><text transform="translate(207.62,599) scale(1.026,1)">a</text><text transform="translate(215.49,599) scale(1.139,1)">s</text><text transform="translate(231.10,599) scale(1.132,1)">u</text><text transform="translate(239.08,599) scale(1.085,1)">p</text><text transform="translate(247.43,599) scale(1.085,1)">d</text><text transform="translate(255.62,599) scale(1.026,1)">a</text><text transform="translate(265.01,599) scale(1.519,1)">t</text><text transform="translate(271.43,599) scale(1.132,1)">e</text><text transform="translate(279.43,599) scale(1.085,1)">d</text><text transform="translate(295.49,599) scale(1.027,1)">o</text><text transform="translate(303.04,599) scale(1.132,1)">n</text><text transform="translate(319.08,599) scale(1.078,1)">F</text><text transform="translate(327.43,599) scale(1.132,1)">e</text><text transform="translate(335.08,599) scale(1.085,1)">b</text><text transform="translate(343.72,599) scale(1.521,1)">r</text><text transform="translate(351.10,599) scale(1.132,1)">u</text><text transform="translate(359.62,599) scale(1.026,1)">a</text><text transform="translate(367.72,599) scale(1.521,1)">r</text><text transform="translate(375.90,599) scale(1.007,1)">y</text><rect x="396.00" y="590" width="2" height="9"/><rect x="395.00" y="591" width="1" height="1"/><text x="402.22" y="599">,</text><text transform="translate(415.50,599) scale(1.136,1)">2</text><text transform="translate(423.42,599) scale(1.150,1)">0</text><text transform="translate(431.42,599) scale(1.150,1)">0</text><text transform="translate(439.55,599) scale(1.108,1)">8</text><text x="450.23" y="599">.</text></g>
</g>
</svg>
</body></html>
